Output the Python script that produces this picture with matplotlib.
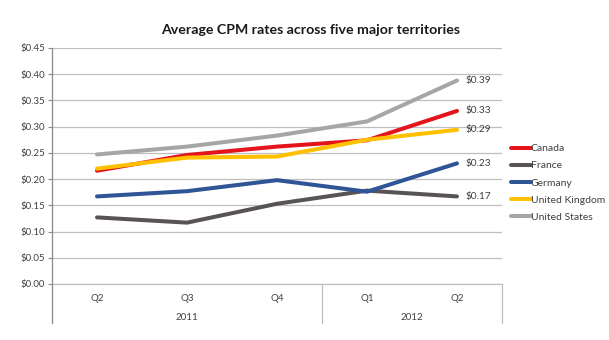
import matplotlib.pyplot as plt
from matplotlib.ticker import FuncFormatter

plt.rcParams['font.family'] = ['Lato', 'DejaVu Sans']

quarters = ['Q2', 'Q3', 'Q4', 'Q1', 'Q2']
years = ['2011', '2012']
year_spans = [(0, 3), (3, 5)]

series_names = ['Canada', 'France', 'Germany', 'United Kingdom', 'United States']
canada = [0.216, 0.246, 0.262, 0.274, 0.330]
france = [0.127, 0.117, 0.153, 0.178, 0.167]
germany = [0.167, 0.177, 0.198, 0.176, 0.230]
uk = [0.220, 0.241, 0.243, 0.275, 0.294]
us = [0.247, 0.262, 0.283, 0.310, 0.388]
colors = ['#E3141B', '#595454', '#2F5597', '#FFC000', '#A6A6A6']

fig = plt.figure(figsize=(6.09, 3.40), dpi=100)
ax = fig.add_axes([52 / 609, 56 / 340, 450 / 609, 236 / 340])

x = list(range(len(quarters)))
all_series = [canada, france, germany, uk, us]
for name, vals, col in zip(series_names, all_series, colors):
    ax.plot(x, vals, color=col, lw=2.9, label=name, solid_capstyle='round', zorder=3)
    ax.text(x[-1] + 0.09, vals[-1], '${:.2f}'.format(vals[-1]), fontsize=7.3,
            color='#404040', va='center', ha='left')

ax.set_xlim(-0.5, 4.5)
ax.set_ylim(0, 0.45)
ax.set_yticks([i * 0.05 for i in range(10)])
ax.yaxis.set_major_formatter(FuncFormatter(lambda v, p: '${:.2f}'.format(v)))
ax.tick_params(axis='y', labelsize=7, labelcolor='#404040', color='#888888',
               length=3, width=0.8, pad=2)
ax.set_xticks([])
ax.grid(axis='y', color='#BFBFBF', lw=0.9)
ax.set_axisbelow(True)
for s in ['top', 'right', 'bottom']:
    ax.spines[s].set_visible(False)
ax.spines['left'].set_color('#888888')
ax.spines['left'].set_linewidth(0.9)

# two-level category axis below the plot
trans = ax.get_xaxis_transform()
ax.plot([-0.5, 4.5], [0, 0], color='#BFBFBF', lw=0.9, transform=trans, clip_on=False)
for xi, q in zip(x, quarters):
    ax.text(xi, -0.06, q, transform=trans, ha='center', va='center',
            fontsize=7, color='#404040')
for yr, (a, b) in zip(years, year_spans):
    ax.text((a + b - 1) / 2, -0.14, yr, transform=trans, ha='center', va='center',
            fontsize=7, color='#404040')
for sep in [-0.5, 2.5, 4.5]:
    c = '#888888' if sep == -0.5 else '#BFBFBF'
    ax.plot([sep, sep], [0, -0.165], color=c, lw=0.9, transform=trans, clip_on=False)

fig.text(311 / 609, 1 - 30 / 340, 'Average CPM rates across five major territories',
         ha='center', va='center', fontsize=10.2, fontweight='bold', color='#1a1a1a')

fig.legend(loc='upper left', bbox_to_anchor=(511 / 609, 1 - 144 / 340), frameon=False,
           fontsize=7.5, handlelength=1.9, handletextpad=0.0, labelspacing=0.76,
           borderpad=0, borderaxespad=0, labelcolor='#404040')

fig.savefig('out.png', dpi=100)
